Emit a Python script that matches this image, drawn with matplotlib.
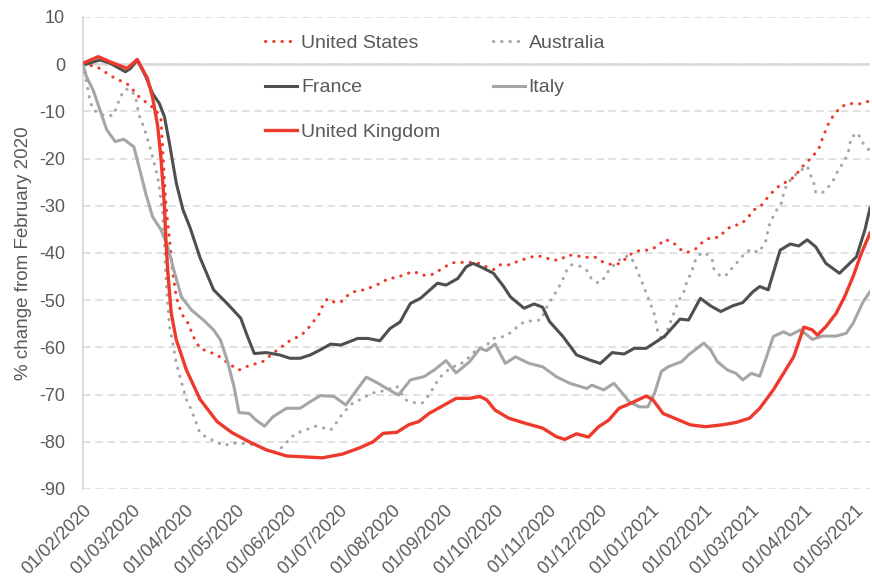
import matplotlib
matplotlib.use('Agg')
import matplotlib.pyplot as plt
import matplotlib.dates as mdates
import pandas as pd

plt.rcParams['font.family'] = ['Liberation Sans', 'DejaVu Sans']
plt.rcParams['axes.unicode_minus'] = False

# ---- data ----
uk_dates = ['2020-02-01', '2020-02-10', '2020-02-17', '2020-02-27', '2020-03-04', '2020-03-10',
            '2020-03-13', '2020-03-16', '2020-03-18', '2020-03-20', '2020-03-21', '2020-03-22',
            '2020-03-24', '2020-03-27', '2020-04-02', '2020-04-10', '2020-04-20', '2020-04-29',
            '2020-05-09', '2020-05-19', '2020-05-31', '2020-06-21', '2020-07-03', '2020-07-13',
            '2020-07-21', '2020-07-27', '2020-08-04', '2020-08-11', '2020-08-17', '2020-08-23',
            '2020-08-31', '2020-09-08', '2020-09-16', '2020-09-22', '2020-09-26', '2020-10-01',
            '2020-10-09', '2020-10-19', '2020-10-29', '2020-11-06', '2020-11-11', '2020-11-18',
            '2020-11-25', '2020-12-01', '2020-12-07', '2020-12-13', '2020-12-19', '2020-12-29',
            '2021-01-02', '2021-01-08', '2021-01-16', '2021-01-24', '2021-02-02', '2021-02-12',
            '2021-02-20', '2021-02-28', '2021-03-06', '2021-03-14', '2021-03-20', '2021-03-26',
            '2021-04-01', '2021-04-06', '2021-04-09', '2021-04-14', '2021-04-20', '2021-04-25',
            '2021-04-30', '2021-05-05', '2021-05-10']
uk_vals = [0.2, 1.6, 0.5, -0.9, 1.0, -3, -7, -13, -20, -30, -38, -44, -52.7, -58.4, -64.8, -71,
           -75.7, -78.1, -80, -81.7, -83, -83.4, -82.6, -81.3, -80, -78.2, -78, -76.4, -75.7, -74,
           -72.4, -70.8, -70.8, -70.4, -71.1, -73.3, -75, -76.1, -77.1, -78.9, -79.5, -78.3, -79,
           -76.8, -75.4, -72.9, -72, -70.3, -71.1, -74, -75.2, -76.4, -76.8, -76.4, -75.9, -75,
           -72.9, -69, -65.5, -62, -55.7, -56.3, -57.4, -55.6, -52.8, -49.3, -45, -40, -35.8]

fr_dates = ['2020-02-01', '2020-02-11', '2020-02-17', '2020-02-26', '2020-02-29', '2020-03-04',
            '2020-03-09', '2020-03-13', '2020-03-17', '2020-03-20', '2020-03-23', '2020-03-27',
            '2020-03-31', '2020-04-04', '2020-04-10', '2020-04-18', '2020-04-26', '2020-05-04',
            '2020-05-08', '2020-05-12', '2020-05-19', '2020-05-27', '2020-06-02', '2020-06-08',
            '2020-06-14', '2020-06-20', '2020-06-26', '2020-07-02', '2020-07-12', '2020-07-18',
            '2020-07-25', '2020-07-31', '2020-08-06', '2020-08-12', '2020-08-18', '2020-08-28',
            '2020-09-02', '2020-09-09', '2020-09-14', '2020-09-18', '2020-09-24', '2020-09-30',
            '2020-10-06', '2020-10-10', '2020-10-18', '2020-10-24', '2020-10-29', '2020-11-02',
            '2020-11-10', '2020-11-18', '2020-11-26', '2020-12-02', '2020-12-09', '2020-12-16',
            '2020-12-22', '2020-12-29', '2021-01-04', '2021-01-09', '2021-01-18', '2021-01-23',
            '2021-01-30', '2021-02-05', '2021-02-11', '2021-02-18', '2021-02-24', '2021-03-02',
            '2021-03-06', '2021-03-11', '2021-03-18', '2021-03-24', '2021-03-29', '2021-04-03',
            '2021-04-08', '2021-04-14', '2021-04-22', '2021-04-26', '2021-05-02', '2021-05-07',
            '2021-05-10']
fr_vals = [-0.2, 0.9, 0.2, -1.6, -0.9, 0.9, -2.6, -6.2, -8.3, -11.1, -16.8, -25.2, -30.9, -34.5,
           -41, -47.8, -50.7, -53.8, -57.7, -61.3, -61.1, -61.6, -62.3, -62.3, -61.6, -60.5, -59.3,
           -59.5, -58.1, -58.1, -58.6, -56, -54.6, -50.7, -49.6, -46.4, -46.8, -45.4, -42.9, -42.2,
           -43.2, -44.3, -47.1, -49.3, -51.7, -50.8, -51.5, -54.5, -57.7, -61.6, -62.7, -63.4,
           -61.1, -61.4, -60.2, -60.2, -58.8, -57.6, -54, -54.2, -49.6, -51.2, -52.4, -51.2, -50.5,
           -48.2, -47.1, -47.8, -39.4, -38.1, -38.5, -37.2, -38.7, -42.2, -44.3, -42.9, -40.8,
           -35.1, -30.5]

it_dates = ['2020-02-01', '2020-02-03', '2020-02-07', '2020-02-11', '2020-02-15', '2020-02-20',
            '2020-02-25', '2020-03-02', '2020-03-05', '2020-03-09', '2020-03-13', '2020-03-18',
            '2020-03-22', '2020-03-25', '2020-03-30', '2020-04-05', '2020-04-12', '2020-04-18',
            '2020-04-22', '2020-04-26', '2020-04-30', '2020-05-03', '2020-05-09', '2020-05-13',
            '2020-05-18', '2020-05-23', '2020-05-31', '2020-06-08', '2020-06-14', '2020-06-20',
            '2020-06-28', '2020-07-05', '2020-07-10', '2020-07-17', '2020-07-24', '2020-07-30',
            '2020-08-05', '2020-08-12', '2020-08-20', '2020-08-26', '2020-09-02', '2020-09-08',
            '2020-09-16', '2020-09-22', '2020-09-26', '2020-10-01', '2020-10-07', '2020-10-13',
            '2020-10-21', '2020-10-29', '2020-11-06', '2020-11-14', '2020-11-24', '2020-11-27',
            '2020-12-04', '2020-12-10', '2020-12-15', '2020-12-19', '2020-12-25', '2020-12-30',
            '2021-01-03', '2021-01-07', '2021-01-11', '2021-01-19', '2021-01-23', '2021-01-28',
            '2021-02-01', '2021-02-05', '2021-02-09', '2021-02-15', '2021-02-20', '2021-02-24',
            '2021-03-01', '2021-03-06', '2021-03-10', '2021-03-14', '2021-03-20', '2021-03-24',
            '2021-03-30', '2021-04-03', '2021-04-06', '2021-04-12', '2021-04-20', '2021-04-26',
            '2021-04-30', '2021-05-06', '2021-05-10']
it_vals = [0, -2.6, -5.5, -9.7, -13.9, -16.4, -15.9, -17.5, -21.7, -27.4, -32.3, -35.1, -38.7,
           -42.9, -49.3, -52.1, -54.2, -56.3, -58.4, -62.7, -68.3, -73.8, -74, -75.4, -76.7, -74.7,
           -72.9, -72.9, -71.5, -70.2, -70.4, -72.2, -69.7, -66.3, -67.6, -68.9, -70.1, -66.9,
           -66.2, -64.8, -62.8, -65.4, -63, -60.2, -60.7, -59.3, -63.4, -62, -63.4, -64.1, -66.2,
           -67.6, -68.7, -68, -69, -67.6, -69.7, -71.5, -72.6, -72.6, -69.7, -65.1, -64.1, -63,
           -61.6, -60.2, -59.1, -60.5, -63, -64.8, -65.5, -66.9, -65.5, -66.1, -62, -57.7, -56.7,
           -57.4, -56.3, -57.4, -58.3, -57.6, -57.6, -57, -54.9, -50.3, -48.2]

us_dates = ['2020-02-01', '2020-02-09', '2020-02-18', '2020-02-28', '2020-03-05', '2020-03-15',
            '2020-03-18', '2020-03-19', '2020-03-20', '2020-03-21', '2020-03-23', '2020-03-25',
            '2020-03-27', '2020-03-30', '2020-04-03', '2020-04-06', '2020-04-10', '2020-04-20',
            '2020-04-28', '2020-05-03', '2020-05-07', '2020-05-17', '2020-05-25', '2020-06-03',
            '2020-06-08', '2020-06-12', '2020-06-15', '2020-06-19', '2020-06-21', '2020-06-24',
            '2020-06-28', '2020-07-02', '2020-07-06', '2020-07-11', '2020-07-16', '2020-07-21',
            '2020-07-26', '2020-07-30', '2020-08-04', '2020-08-09', '2020-08-14', '2020-08-19',
            '2020-08-24', '2020-08-29', '2020-09-02', '2020-09-07', '2020-09-12', '2020-09-20',
            '2020-09-25', '2020-09-30', '2020-10-04', '2020-10-10', '2020-10-14', '2020-10-20',
            '2020-10-25', '2020-10-30', '2020-11-03', '2020-11-08', '2020-11-13', '2020-11-18',
            '2020-11-23', '2020-11-29', '2020-12-04', '2020-12-09', '2020-12-14', '2020-12-18',
            '2020-12-22', '2020-12-27', '2020-12-31', '2021-01-05', '2021-01-09', '2021-01-14',
            '2021-01-18', '2021-01-22', '2021-01-27', '2021-01-31', '2021-02-05', '2021-02-10',
            '2021-02-14', '2021-02-18', '2021-02-23', '2021-02-27', '2021-03-02', '2021-03-07',
            '2021-03-10', '2021-03-14', '2021-03-18', '2021-03-23', '2021-03-27', '2021-03-30',
            '2021-04-03', '2021-04-07', '2021-04-10', '2021-04-12', '2021-04-14', '2021-04-16',
            '2021-04-19', '2021-04-23', '2021-04-28', '2021-05-03', '2021-05-08', '2021-05-10']
us_vals = [0, -0.5, -2.6, -4.4, -6.9, -9.7, -11.8, -18.2, -24.5, -30.2, -37.2, -44.3, -49.3,
           -52.8, -54.9, -57.7, -60.2, -61.6, -63.7, -64.8, -64.1, -63, -60.7, -58.3, -57.6,
           -56.3, -54.9, -53.1, -51.4, -49.7, -50.4, -50.4, -49, -48, -47.8, -47.1, -46.3, -45.4,
           -45.2, -44.5, -43.9, -44.7, -44.7, -43.7, -42.8, -42, -42, -42, -42.8, -43.5, -42.5,
           -42.5, -41.8, -41.1, -40.6, -40.8, -41.5, -41.5, -40.4, -40.6, -40.9, -40.9, -42,
           -42.5, -42.2, -40.8, -39.7, -39.4, -39.4, -38.5, -37.1, -37.8, -39.2, -39.9, -39.2,
           -37.8, -36.7, -36.7, -35.1, -34.2, -33.9, -32.5, -31, -29.9, -28.5, -26.9, -25.6,
           -24.7, -23.7, -22.1, -20.7, -19.2, -17.7, -15.7, -13.9, -12.2, -10.6, -9, -8.3, -8.5,
           -7.9, -8]

au_dates = ['2020-02-01', '2020-02-03', '2020-02-04', '2020-02-05', '2020-02-07', '2020-02-14',
            '2020-02-19', '2020-02-21', '2020-02-23', '2020-02-26', '2020-02-29', '2020-03-03',
            '2020-03-05', '2020-03-07', '2020-03-09', '2020-03-12', '2020-03-14', '2020-03-16',
            '2020-03-18', '2020-03-19', '2020-03-20', '2020-03-21', '2020-03-22', '2020-03-23',
            '2020-03-25', '2020-03-27', '2020-03-30', '2020-04-02', '2020-04-05', '2020-04-10',
            '2020-04-15', '2020-04-20', '2020-04-24', '2020-04-29', '2020-05-04', '2020-05-13',
            '2020-05-19', '2020-05-23', '2020-05-29', '2020-06-03', '2020-06-08', '2020-06-12',
            '2020-06-17', '2020-06-21', '2020-06-26', '2020-06-30', '2020-07-03', '2020-07-09',
            '2020-07-15', '2020-07-20', '2020-07-25', '2020-07-30', '2020-08-04', '2020-08-09',
            '2020-08-14', '2020-08-19', '2020-08-23', '2020-08-26', '2020-08-29', '2020-09-02',
            '2020-09-06', '2020-09-10', '2020-09-15', '2020-09-20', '2020-09-26', '2020-09-30',
            '2020-10-06', '2020-10-11', '2020-10-14', '2020-10-18', '2020-10-24', '2020-10-28',
            '2020-11-01', '2020-11-04', '2020-11-07', '2020-11-10', '2020-11-12', '2020-11-15',
            '2020-11-20', '2020-11-24', '2020-11-27', '2020-12-01', '2020-12-04', '2020-12-07',
            '2020-12-11', '2020-12-15', '2020-12-19', '2020-12-22', '2020-12-24', '2020-12-26',
            '2020-12-28', '2020-12-30', '2021-01-01', '2021-01-03', '2021-01-04', '2021-01-05',
            '2021-01-08', '2021-01-12', '2021-01-16', '2021-01-18', '2021-01-21', '2021-01-22',
            '2021-01-25', '2021-01-26', '2021-01-29', '2021-02-02', '2021-02-06', '2021-02-07',
            '2021-02-11', '2021-02-15', '2021-02-18', '2021-02-22', '2021-02-25', '2021-03-01',
            '2021-03-05', '2021-03-08', '2021-03-10', '2021-03-11', '2021-03-13', '2021-03-16',
            '2021-03-19', '2021-03-20', '2021-03-22', '2021-03-25', '2021-03-28', '2021-03-31',
            '2021-04-03', '2021-04-05', '2021-04-07', '2021-04-08', '2021-04-12', '2021-04-16',
            '2021-04-19', '2021-04-21', '2021-04-24', '2021-04-27', '2021-04-28', '2021-04-29',
            '2021-05-03', '2021-05-05', '2021-05-08', '2021-05-10']
au_vals = [0, -3.7, -5.5, -7.6, -9.7, -11, -10.8, -8.9, -6.9, -5.3, -5.3, -6.9, -10.8, -12.5,
           -14.6, -18.2, -21, -23.8, -28.8, -31.6, -38, -46, -51, -55.6, -59.1, -63.4, -67.3,
           -71.1, -73.3, -78.2, -79.3, -80.1, -80.8, -80.3, -80.3, -80.7, -81.7, -82.3, -81,
           -78.9, -77.9, -77.4, -76.7, -77, -77.5, -75.7, -74, -71.8, -70.8, -69.7, -69.4, -68.9,
           -68.2, -71.1, -71.7, -71.8, -70.1, -68.3, -66.5, -65.1, -64.1, -63.7, -62.3, -60.5,
           -59.5, -58.1, -57.7, -56.7, -55.6, -54.6, -54.3, -54.2, -51, -49.3, -47.6, -45.5,
           -43.8, -42.5, -42.8, -43.7, -45.6, -46.4, -45.4, -43.7, -42.2, -40.9, -40.6, -42, -44,
           -45.7, -47.5, -49.3, -51.2, -53.1, -55.1, -57, -58.6, -55, -51.2, -49.6, -47.7, -46,
           -44, -42.2, -40.4, -39.9, -41.5, -43.4, -45, -44.5, -43, -41.5, -40.1, -39.2, -39.9,
           -38.5, -37.1, -34.6, -32.9, -30.9, -29.3, -27.4, -25.4, -24.2, -23.1, -22.3, -21.6,
           -23.5, -25.4, -27.2, -27.2, -25.8, -24.2, -22.6, -21, -19, -17.1, -15.4, -14.6, -16.4,
           -17.5, -18.5]

y_ticks = list(range(-90, 11, 10))

# ---- styling ----
red = '#ee3a2c'
dark = '#4f4f4f'
light = '#a6a6a6'
txt = '#595959'
grid_c = '#d9d9d9'

fig = plt.figure(figsize=(8.72, 5.88), dpi=100)
ax = fig.add_axes([83/872, 1 - 489/588, (870 - 83)/872, (489 - 17)/588])

dotted = (0, (0.1, 2.6))
l_us, = ax.plot(pd.to_datetime(us_dates), us_vals, color=red, lw=2.2, ls=dotted,
                dash_capstyle='round', label='United States', zorder=3)
l_au, = ax.plot(pd.to_datetime(au_dates), au_vals, color=light, lw=2.2, ls=dotted,
                dash_capstyle='round', label='Australia', zorder=3)
l_fr, = ax.plot(pd.to_datetime(fr_dates), fr_vals, color=dark, lw=2.2,
                label='France', zorder=4)
l_it, = ax.plot(pd.to_datetime(it_dates), it_vals, color=light, lw=2.2,
                label='Italy', zorder=4)
l_uk, = ax.plot(pd.to_datetime(uk_dates), uk_vals, color=red, lw=2.4,
                label='United Kingdom', zorder=5)

# axes
ax.set_xlim(pd.Timestamp('2020-02-01'), pd.Timestamp('2021-05-10'))
ax.set_ylim(-90, 10)
ax.set_yticks(y_ticks)
ax.yaxis.grid(True, color=grid_c, lw=1.1, ls=(0, (5, 3)))
ax.set_axisbelow(True)
ax.axhline(0, color=grid_c, lw=1.8, zorder=1)

for s in ['top', 'right', 'bottom']:
    ax.spines[s].set_visible(False)
ax.spines['left'].set_color(grid_c)
ax.spines['left'].set_linewidth(1.3)

ax.xaxis.set_major_locator(mdates.MonthLocator(bymonthday=1))
ax.xaxis.set_major_formatter(mdates.DateFormatter('%d/%m/%Y'))
ax.tick_params(axis='y', length=0, pad=13, labelsize=13, labelcolor=txt)
ax.tick_params(axis='x', length=0, pad=9, labelsize=13, labelcolor=txt)
for lab in ax.get_xticklabels():
    lab.set_rotation(45)
    lab.set_ha('right')
    lab.set_rotation_mode('anchor')

ax.set_ylabel('% change from February 2020', fontsize=13.5, color=txt)
ax.yaxis.set_label_coords(-0.065, 0.5)

fig.legend(handles=[l_us, l_fr, l_uk, l_au, l_it], ncol=2, frameon=False, fontsize=14,
           labelcolor=txt, handlelength=1.65, handletextpad=0.2, columnspacing=2.7,
           labelspacing=1.4, loc='upper left', bbox_to_anchor=(265/872, 1 - 34/588),
           borderpad=0, borderaxespad=0)

fig.savefig('out.png', dpi=100)
